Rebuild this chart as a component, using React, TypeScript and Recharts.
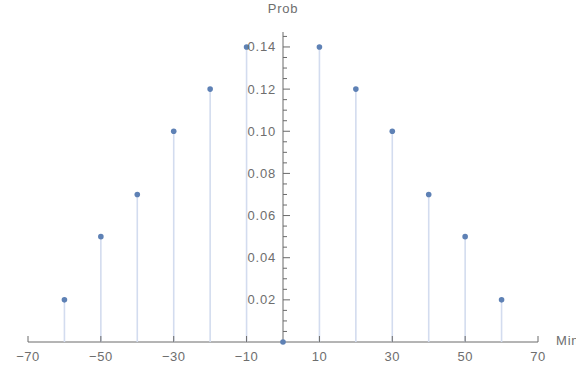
import React from 'react';
import { ComposedChart, XAxis, YAxis, Scatter, ReferenceLine } from 'recharts';

const minutes = [-60, -50, -40, -30, -20, -10, 0, 10, 20, 30, 40, 50, 60];
const probs = [0.02, 0.05, 0.07, 0.1, 0.12, 0.14, 0, 0.14, 0.12, 0.1, 0.07, 0.05, 0.02];
const xTicks = [-70, -50, -30, -10, 10, 30, 50, 70];
const yMajor = [0.02, 0.04, 0.06, 0.08, 0.1, 0.12, 0.14];
const yMinorStep = 0.005;
const yMinorCount = 29;

const data = minutes.map((m, i) => ({ x: m, p: probs[i] }));
const yTicks: number[] = [];
for (let i = 1; i <= yMinorCount; i++) yTicks.push(Math.round(i * yMinorStep * 1000) / 1000);

const W = 576;
const H = 372;
const YAXIS_W = 1;
const M = { top: 32, right: 38, bottom: 0, left: 27 };
const XAXIS_H = 30;
const X_DOMAIN: [number, number] = [-70, 70];
const Y_DOMAIN: [number, number] = [0, 0.1471];
const PLOT_LEFT = M.left + YAXIS_W;
const PLOT_W = W - PLOT_LEFT - M.right;
const PLOT_BOTTOM = H - M.bottom - XAXIS_H;
const AXIS_X = PLOT_LEFT + ((0 - X_DOMAIN[0]) / (X_DOMAIN[1] - X_DOMAIN[0])) * PLOT_W;

const AXIS_COLOR = '#6a6a6a';
const TEXT_COLOR = '#6e6e6e';
const STEM_COLOR = '#d3dcef';
const DOT_COLOR = '#5e81b5';
const FONT = '"Liberation Sans", Arial, sans-serif';

const fmtX = (v: number) => (v < 0 ? '\u2212' + Math.abs(v) : String(v));

const XTick = (props: any) => {
  const { x, y, payload } = props;
  return (
    <g>
      <line x1={x} x2={x} y1={y} y2={y - 6} stroke={AXIS_COLOR} strokeWidth={1} />
      <text x={x} y={y + 19} textAnchor="middle" fontSize={13} fill={TEXT_COLOR} fontFamily={FONT} letterSpacing={0.5}>
        {fmtX(payload.value)}
      </text>
    </g>
  );
};

const YTick = (props: any) => {
  const { y, payload } = props;
  const v = payload.value as number;
  const major = yMajor.some((m) => Math.abs(m - v) < 1e-6);
  return (
    <g>
      <line x1={AXIS_X} x2={AXIS_X + (major ? 7 : 4)} y1={y} y2={y} stroke={AXIS_COLOR} strokeWidth={1} />
      {major && (
        <text x={AXIS_X - 7} y={y + 4.5} textAnchor="end" fontSize={13} fill={TEXT_COLOR} fontFamily={FONT} letterSpacing={0.8}>
          {v.toFixed(2)}
        </text>
      )}
    </g>
  );
};

const StemShape = (props: any) => {
  const { cx, cy } = props;
  return (
    <g>
      <line x1={cx} x2={cx} y1={cy} y2={PLOT_BOTTOM} stroke={STEM_COLOR} strokeWidth={1.6} />
      <circle cx={cx} cy={cy} r={2.8} fill={DOT_COLOR} />
    </g>
  );
};

export default function App() {
  return (
    <div style={{ position: 'absolute', left: 0, top: 0, width: W, height: H, background: '#fff', overflow: 'hidden' }}>
      <ComposedChart width={W} height={H} data={data} margin={M}>
        <XAxis
          dataKey="x"
          type="number"
          domain={X_DOMAIN}
          ticks={xTicks}
          interval={0}
          height={XAXIS_H}
          axisLine={{ stroke: AXIS_COLOR, strokeWidth: 1 }}
          tickLine={false}
          tickSize={0}
          tickMargin={0}
          tick={<XTick />}
        />
        <YAxis
          type="number"
          domain={Y_DOMAIN}
          ticks={yTicks}
          interval={0}
          width={YAXIS_W}
          axisLine={false}
          tickLine={false}
          tick={<YTick />}
        />
        <ReferenceLine x={0} stroke={AXIS_COLOR} strokeWidth={1} />
        <Scatter dataKey="p" shape={<StemShape />} isAnimationActive={false} />
      </ComposedChart>
      <div style={{ position: 'absolute', left: AXIS_X - 30, width: 60, top: 1, textAlign: 'center', fontFamily: FONT, fontSize: 13, color: TEXT_COLOR, letterSpacing: 0.8 }}>
        Prob
      </div>
      <div style={{ position: 'absolute', left: 556, top: PLOT_BOTTOM - 9, fontFamily: FONT, fontSize: 13, color: TEXT_COLOR, letterSpacing: 0.8, whiteSpace: 'nowrap' }}>
        Min
      </div>
    </div>
  );
}
